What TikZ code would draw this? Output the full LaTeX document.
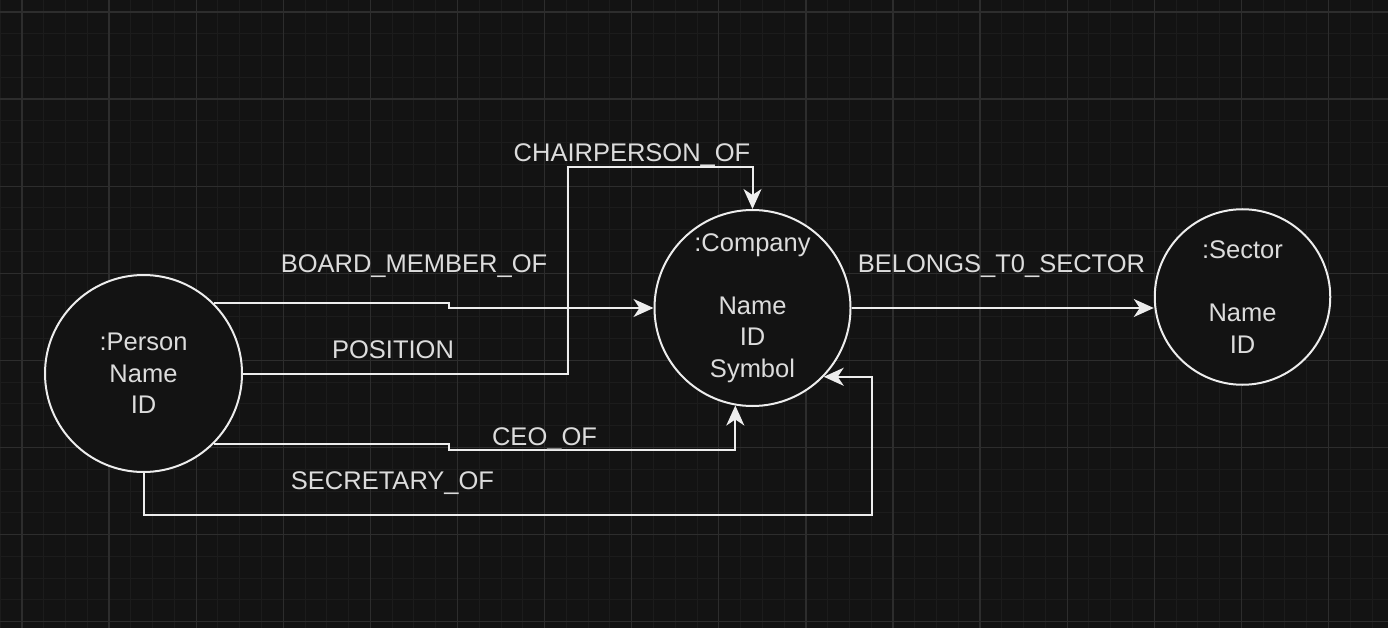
\documentclass[tikz,border=0pt]{standalone}
\usepackage{fontspec}
\setmainfont{Liberation Sans}
\usetikzlibrary{arrows.meta}
\definecolor{bgc}{HTML}{131313}
\definecolor{minorc}{HTML}{1C1C1C}
\definecolor{majorc}{HTML}{2D2D2D}
\definecolor{linec}{HTML}{EDEDED}
\definecolor{textc}{HTML}{DCDCDC}
\tikzset{
  entity/.style={circle, draw=linec, line width=2pt, fill=bgc, inner sep=0pt,
    text=textc, align=center, font=\fontsize{25.5}{31.5}\selectfont},
  rel/.style={draw=linec, line width=2pt,
    -{Stealth[length=20pt, width=18pt, inset=6pt]}},
  lbl/.style={text=textc, anchor=base, inner sep=0pt,
    font=\fontsize{25.5}{31.5}\selectfont},
  minorline/.style={draw=minorc, line width=1pt},
  majorline/.style={draw=majorc, line width=1.3pt}
}
\begin{document}
\begin{tikzpicture}[x=1pt, y=-1pt]
\useasboundingbox (0,0) rectangle (1388,628);
\fill[bgc] (0,0) rectangle (1388,628);
% grid
\foreach \i in {0,...,63} {
  \draw[minorline] ({0.22+\i*21.775},0) -- ++(0,628);
}
\foreach \i in {0,...,28} {
  \draw[minorline] (0,{12+\i*21.775}) -- ++(1388,0);
}
\foreach \i in {0,...,15} {
  \draw[majorline] ({22+\i*87.1},0) -- ++(0,628);
}
\foreach \i in {0,...,7} {
  \draw[majorline] (0,{12+\i*87.1}) -- ++(1388,0);
}
% entities
\node[entity, minimum size=197pt] (person) at (143.5,373.5) {:Person\\Name\\ID};
\node[entity, minimum size=196pt] (company) at (752.5,308) {:Company\\\mbox{}\\Name\\ID\\Symbol};
\node[entity, minimum size=175.5pt] (sector) at (1242.5,297) {:Sector\\\mbox{}\\Name\\ID};
% waypoints
\coordinate (chairtop) at (568,167);
\coordinate (seccorner) at (872,515);
% relations
\draw[rel] (person.45) -- ++(235,0) |- (company.west);
\draw[rel] (person.east) -| (chairtop) -| (company.north);
\draw[rel] (person.-45) -- ++(235,0) -- ++(0,6) -| (company.260);
\draw[rel] (person.south) |- (seccorner) |- (company.-44);
\draw[rel] (company.east) -- (company.east -| sector.west);
% labels
\node[lbl] (lchair) at (632,162) {CHAIRPERSON\_OF};
\node[lbl] (lboard) at (414,272) {BOARD\_MEMBER\_OF};
\node[lbl] (lpos) at (393,358) {POSITION};
\node[lbl] (lceo) at (544.5,445) {CEO\_OF};
\node[lbl] (lsec) at (392.5,489) {SECRETARY\_OF};
\node[lbl] (lbel) at (1001.5,272) {BELONGS\_T0\_SECTOR};
\end{tikzpicture}
\end{document}
